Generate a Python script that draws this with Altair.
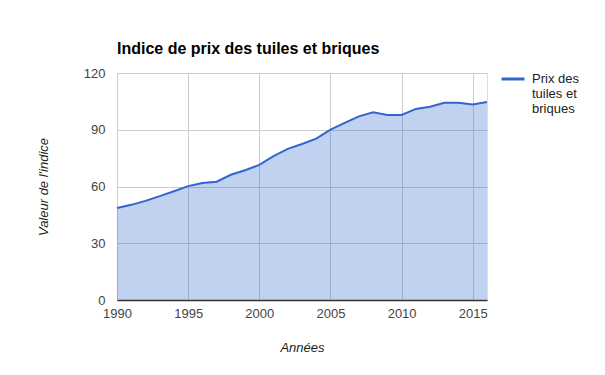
import altair as alt
import pandas as pd

years = list(range(1990, 2017))
values = [48.6, 50.3, 52.4, 54.9, 57.5, 60.2, 61.9, 62.5, 66.2, 68.6, 71.4,
          76.0, 79.9, 82.5, 85.3, 90.1, 93.6, 97.1, 99.2, 97.8, 97.8,
          101.0, 102.2, 104.3, 104.3, 103.3, 104.7]
series = "Prix des tuiles et briques"
x_ticks = [1990, 1995, 2000, 2005, 2010, 2015]
y_ticks = [0, 30, 60, 90, 120]

df = pd.DataFrame({"Année": years, "Indice": values, "Série": [series] * len(years)})

FONT = "Liberation Sans"
BLUE = "#3366cc"
W, H = 370, 227

x = alt.X(
    "Année:Q",
    scale=alt.Scale(domain=[1990, 2016], nice=False, zero=False),
    axis=alt.Axis(
        values=x_ticks, format="d", title="Années",
        grid=True, gridColor="#cccccc", ticks=False, labelFlush=False,
        domain=True, domainColor="#333333", domainWidth=1.5,
        labelFont=FONT, labelFontSize=13, labelColor="#444444", labelPadding=7,
        titleFont=FONT, titleFontSize=13, titleFontStyle="italic", titleFontWeight="normal",
        titleColor="#222222", titleX=W / 2, titleY=47, titleBaseline="middle",
        titleAlign="center",
    ),
)
y = alt.Y(
    "Indice:Q",
    scale=alt.Scale(domain=[0, 120], nice=False),
    axis=alt.Axis(
        values=y_ticks, title="Valeur de l'indice",
        grid=True, gridColor="#cccccc", ticks=False, domain=False,
        labelFont=FONT, labelFontSize=13, labelColor="#444444", labelPadding=12,
        titleFont=FONT, titleFontSize=13, titleFontStyle="italic", titleFontWeight="normal",
        titleColor="#222222", titleX=-74, titleY=H / 2, titleBaseline="middle",
        titleAlign="center", titleAngle=270,
    ),
)

base = alt.Chart(df)
area = base.mark_area(color=BLUE, opacity=0.3).encode(x=x, y=y)
line = base.mark_line(strokeWidth=2).encode(
    x=x, y=y,
    color=alt.Color(
        "Série:N",
        scale=alt.Scale(domain=[series], range=[BLUE]),
        legend=alt.Legend(
            title=None, orient="none", legendX=383, legendY=-7,
            symbolType="stroke", symbolSize=529, symbolStrokeWidth=3,
            labelFont=FONT, labelFontSize=13, labelColor="#222222",
            labelExpr="['Prix des', 'tuiles et', 'briques']",
            labelBaseline="middle", labelOffset=6, padding=0,
        ),
    ),
)

chart = (
    alt.layer(area, line)
    .properties(
        width=W, height=H,
        title=alt.TitleParams(
            "Indice de prix des tuiles et briques", anchor="start", frame="group",
            font=FONT, fontSize=16, fontWeight="bold", color="#000000",
            offset=18, dy=22, baseline="alphabetic",
        ),
        padding={"left": 109, "top": 65, "right": 100, "bottom": 60},
        autosize=alt.AutoSizeParams(type="none"),
    )
    .configure_view(strokeWidth=0)
    .configure(background="white")
)

chart.save("out.html", embed_options={"renderer": "svg", "actions": False})
